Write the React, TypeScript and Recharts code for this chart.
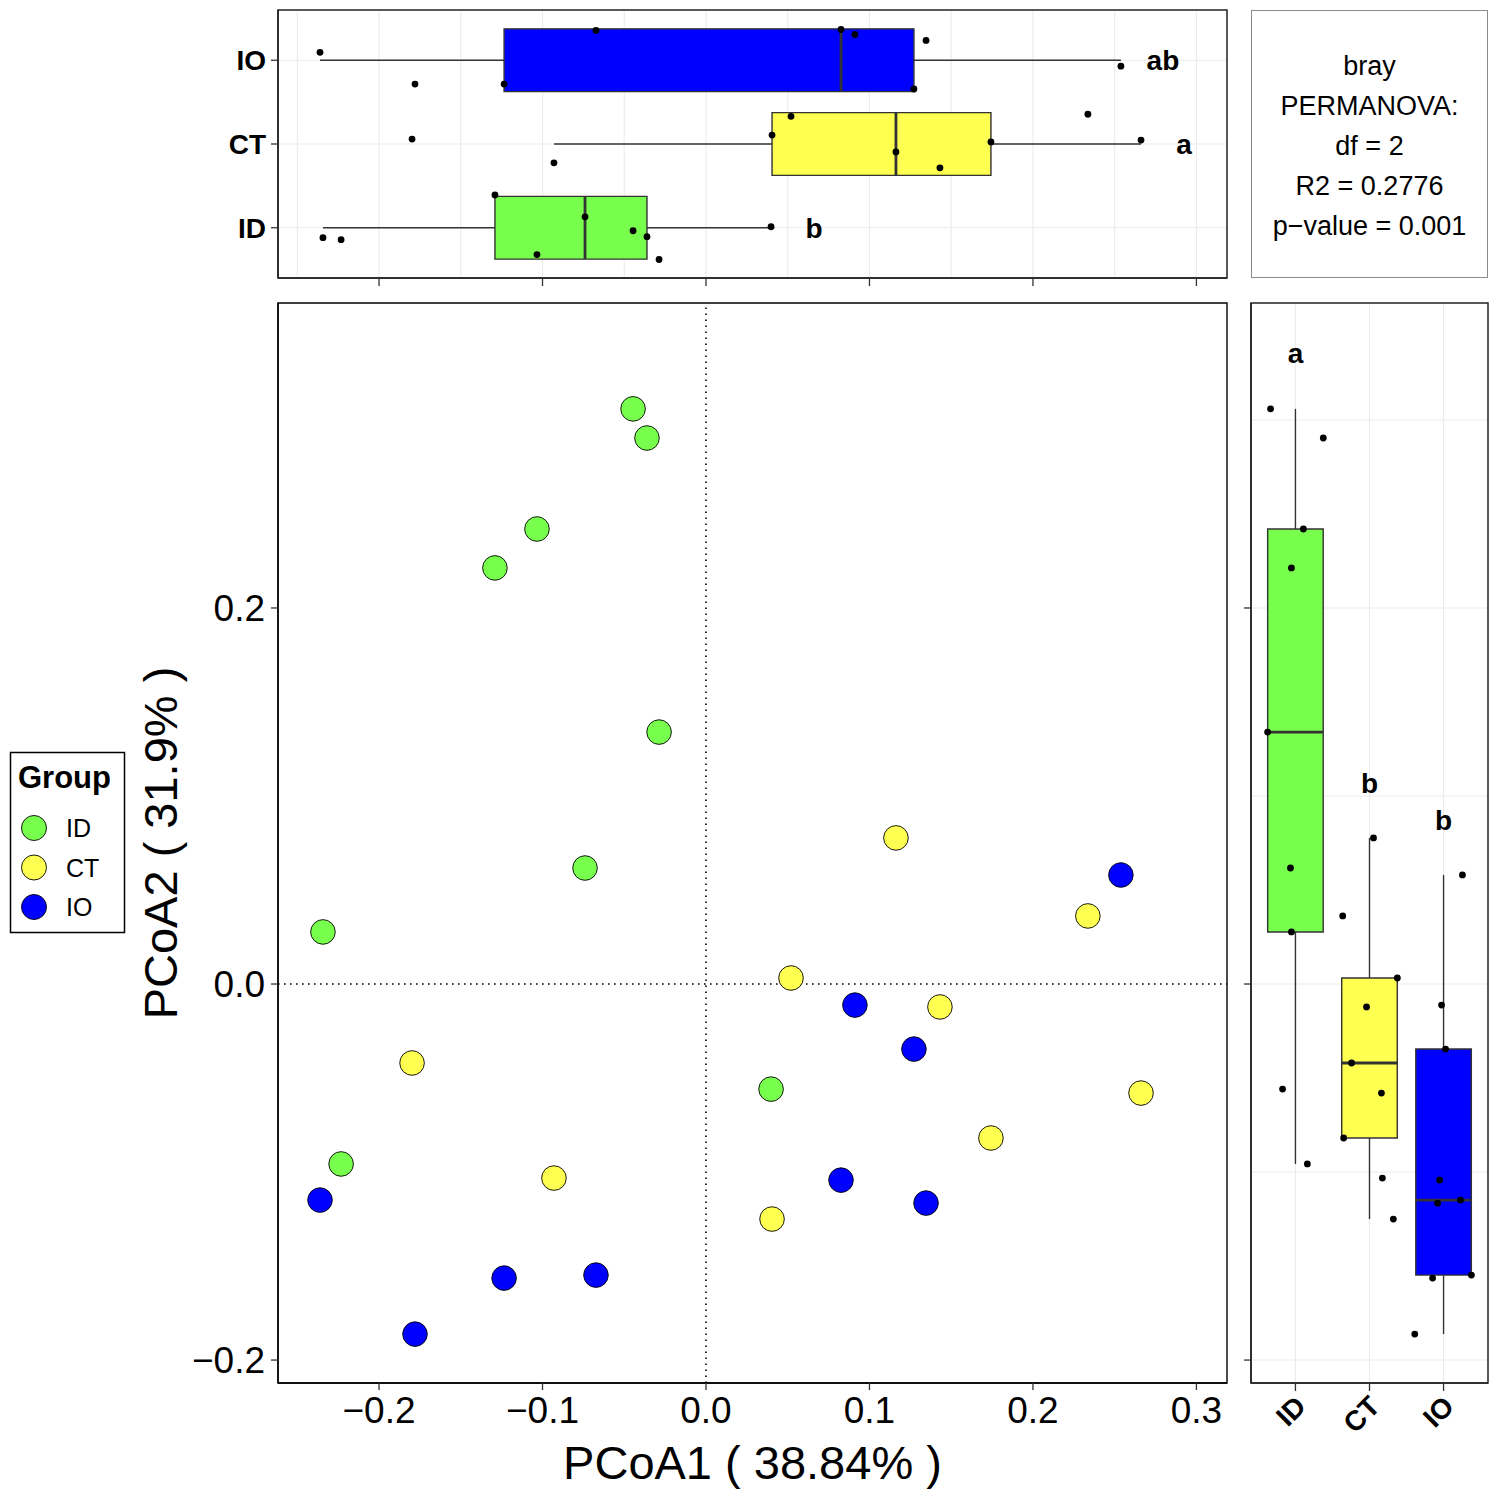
import React from 'react';
import {
  ScatterChart,
  Scatter,
  XAxis,
  YAxis,
  CartesianGrid,
  ReferenceLine,
  ReferenceArea,
} from 'recharts';

const FONT = '"Liberation Sans", Arial, Helvetica, sans-serif';

// ---------- data ----------
const groups = ['ID', 'CT', 'IO'];
const groupColors = ['#78FF4D', '#FFFF52', '#0000FF'];

const idX = [-0.0446, -0.0361, -0.1034, -0.1291, -0.0287, -0.074, -0.2343, 0.0398, -0.2232];
const idY = [0.3059, 0.2904, 0.242, 0.2213, 0.134, 0.0617, 0.0277, -0.0559, -0.0957];
const ctX = [0.1162, 0.2336, 0.052, 0.1431, -0.1798, 0.2661, 0.1743, -0.093, 0.0404];
const ctY = [0.0777, 0.0362, 0.0032, -0.0122, -0.042, -0.058, -0.0819, -0.1032, -0.125];
const ioX = [0.2538, 0.0911, 0.1272, 0.0826, 0.1346, -0.2361, -0.1235, -0.0673, -0.178];
const ioY = [0.058, -0.0112, -0.0346, -0.1043, -0.1165, -0.1149, -0.1564, -0.1548, -0.1862];

// jitter offsets (category units)
const idJitTop = [-0.036, -0.107, -0.32, 0.391, -0.379, 0.13, -0.118, 0.012, -0.142];
const ctJitTop = [-0.095, 0.355, 0.331, -0.284, 0.059, 0.047, 0.024, -0.225, 0.107];
const ioJitTop = [-0.071, 0.308, -0.343, 0.367, 0.237, 0.095, -0.284, 0.355, -0.284];
const idJitRight = [-0.336, 0.376, 0.107, -0.054, -0.376, -0.067, -0.054, -0.174, 0.161];
const ctJitRight = [0.054, -0.362, 0.376, -0.04, -0.242, 0.161, -0.349, 0.174, 0.322];
const ioJitRight = [0.255, -0.027, 0.027, -0.054, -0.081, 0.228, -0.148, 0.376, -0.389];

// significance letters
const topLetters = ['b', 'a', 'ab'];
const topLetterX = [0.0661, 0.2924, 0.2795];
const rightLetters = ['a', 'b', 'b'];
const rightLetterY = [0.3356, 0.1069, 0.0872];

// axes
const X_DOMAIN = [-0.2618, 0.3187];
const Y_DOMAIN = [-0.2122, 0.3622];
const CAT_DOMAIN = [0.4, 3.6];
const xTicks = [-0.2, -0.1, 0, 0.1, 0.2, 0.3];
const yTicks = [-0.2, 0, 0.2];
const catTicks = [1, 2, 3];
const xGridTop = [-0.25, -0.2, -0.15, -0.1, -0.05, 0, 0.05, 0.1, 0.15, 0.2, 0.25, 0.3];
const yGridRight = [-0.2, -0.1, 0, 0.1, 0.2, 0.3];

const statsLines = ['bray', 'PERMANOVA:', 'df = 2', 'R2 = 0.2776', 'p\u2212value = 0.001'];
const xTitle = 'PCoA1 ( 38.84% )';
const yTitle = 'PCoA2 ( 31.9% )';
const legendTitle = 'Group';

// ---------- derived ----------
const xs = [idX, ctX, ioX];
const ys = [idY, ctY, ioY];
const jitTop = [idJitTop, ctJitTop, ioJitTop];
const jitRight = [idJitRight, ctJitRight, ioJitRight];

function quantile(sorted: number[], p: number) {
  const h = (sorted.length - 1) * p;
  const lo = Math.floor(h);
  const hi = Math.min(lo + 1, sorted.length - 1);
  return sorted[lo] + (h - lo) * (sorted[hi] - sorted[lo]);
}
function boxStats(vals: number[]) {
  const s = [...vals].sort((a, b) => a - b);
  const q1 = quantile(s, 0.25);
  const med = quantile(s, 0.5);
  const q3 = quantile(s, 0.75);
  const iqr = q3 - q1;
  const lo = Math.min(...s.filter((v) => v >= q1 - 1.5 * iqr));
  const hi = Math.max(...s.filter((v) => v <= q3 + 1.5 * iqr));
  return { q1, med, q3, lo, hi };
}

const mainData = groups.map((g, i) => xs[i].map((x, j) => ({ x, y: ys[i][j] })));
const topPts = groups.map((g, i) => xs[i].map((x, j) => ({ x, y: i + 1 + jitTop[i][j] })));
const rightPts = groups.map((g, i) => ys[i].map((y, j) => ({ x: i + 1 + jitRight[i][j], y })));
const topStats = groups.map((g, i) => boxStats(xs[i]));
const rightStats = groups.map((g, i) => boxStats(ys[i]));
const topLetterData = groups.map((g, i) => ({ x: topLetterX[i], y: i + 1, label: topLetters[i] }));
const rightLetterData = groups.map((g, i) => ({ x: i + 1, y: rightLetterY[i], label: rightLetters[i] }));

const HALF = 0.375;
const GRID = '#EBEBEB';
const fmt = (v: number) => (v < 0 ? '\u2212' : '') + Math.abs(v).toFixed(1);

const bigCircle = (color: string) => (p: any) => (
  <circle cx={p.cx} cy={p.cy} r={12.3} fill={color} stroke="#000" strokeWidth={0.9} />
);
const smallDot = (p: any) => <circle cx={p.cx} cy={p.cy} r={3.4} fill="#000" />;
const emptyTick = () => <g />;
const letterShape = (p: any) => (
  <text
    x={p.cx}
    y={p.cy}
    dy="0.36em"
    textAnchor="middle"
    fontFamily={FONT}
    fontWeight="bold"
    fontSize={28}
    fill="#000"
  >
    {p.payload.label}
  </text>
);

const XTitle = (props: any) => {
  const vb = props.viewBox || { x: 278, y: 1093, width: 949, height: 100 };
  return (
    <text x={vb.x + vb.width / 2} y={vb.y + 96} textAnchor="middle" fontFamily={FONT} fontSize={47} fill="#000">
      {xTitle}
    </text>
  );
};
const YTitle = (props: any) => {
  const vb = props.viewBox || { x: 198, y: 13, width: 80, height: 1080 };
  const x = vb.x - 21;
  const y = vb.y + vb.height / 2;
  return (
    <text x={x} y={y} transform={`rotate(-90 ${x} ${y})`} textAnchor="middle" fontFamily={FONT} fontSize={47} fill="#000">
      {yTitle}
    </text>
  );
};

const RotTick = (p: any) => {
  const x = p.x + 12;
  const y = p.y + 17;
  return (
    <text
      x={x}
      y={y}
      transform={`rotate(-45 ${x} ${y})`}
      textAnchor="end"
      fontFamily={FONT}
      fontWeight="bold"
      fontSize={28}
      fill="#000"
    >
      {groups[p.payload.value - 1]}
    </text>
  );
};

export default function App() {
  return (
    <div style={{ position: 'absolute', left: 0, top: 0, width: 1500, height: 1498, background: '#fff', fontFamily: FONT }}>
      {/* top box plot */}
      <div style={{ position: 'absolute', left: 0, top: 0 }}>
        <ScatterChart width={1240} height={290} margin={{ top: 10, right: 13, bottom: 0, left: 198 }}>
          <CartesianGrid stroke={GRID} strokeWidth={1.1} verticalValues={xGridTop} horizontalValues={catTicks} />
          <XAxis
            type="number"
            dataKey="x"
            domain={X_DOMAIN}
            ticks={xTicks}
            interval={0}
            allowDataOverflow
            tick={emptyTick}
            tickSize={8}
            height={12}
            axisLine={{ stroke: '#222', strokeWidth: 1.5 }}
            tickLine={{ stroke: '#333', strokeWidth: 1.3 }}
          />
          <YAxis
            type="number"
            dataKey="y"
            domain={CAT_DOMAIN}
            ticks={catTicks}
            interval={0}
            allowDataOverflow
            width={80}
            tickSize={7}
            tickMargin={5}
            tickFormatter={(v: number) => groups[v - 1]}
            tick={{ fontSize: 28, fontWeight: 'bold', fill: '#000', fontFamily: FONT }}
            axisLine={{ stroke: '#222', strokeWidth: 1.5 }}
            tickLine={{ stroke: '#333', strokeWidth: 1.3 }}
          />
          {topStats.map((s, i) => (
            <ReferenceLine
              key={`tw1${i}`}
              segment={[{ x: s.lo, y: i + 1 }, { x: s.q1, y: i + 1 }]}
              stroke="#333"
              strokeWidth={1.4}
              ifOverflow="visible"
            />
          ))}
          {topStats.map((s, i) => (
            <ReferenceLine
              key={`tw2${i}`}
              segment={[{ x: s.q3, y: i + 1 }, { x: s.hi, y: i + 1 }]}
              stroke="#333"
              strokeWidth={1.4}
              ifOverflow="visible"
            />
          ))}
          {topStats.map((s, i) => (
            <ReferenceArea
              key={`tb${i}`}
              x1={s.q1}
              x2={s.q3}
              y1={i + 1 - HALF}
              y2={i + 1 + HALF}
              fill={groupColors[i]}
              fillOpacity={1}
              stroke="#333"
              strokeWidth={1.4}
              ifOverflow="visible"
            />
          ))}
          {topStats.map((s, i) => (
            <ReferenceLine
              key={`tm${i}`}
              segment={[{ x: s.med, y: i + 1 - HALF }, { x: s.med, y: i + 1 + HALF }]}
              stroke="#333"
              strokeWidth={2.8}
              ifOverflow="visible"
            />
          ))}
          {topPts.map((d, i) => (
            <Scatter key={`tp${i}`} data={d} isAnimationActive={false} shape={smallDot} />
          ))}
          <Scatter data={topLetterData} isAnimationActive={false} shape={letterShape} />
          <ReferenceArea
            x1={X_DOMAIN[0]}
            x2={X_DOMAIN[1]}
            y1={CAT_DOMAIN[0]}
            y2={CAT_DOMAIN[1]}
            fill="none"
            stroke="#222"
            strokeWidth={1.5}
            ifOverflow="visible"
          />
        </ScatterChart>
      </div>

      {/* stats text panel */}
      <div
        style={{
          position: 'absolute',
          left: 1251,
          top: 10,
          width: 237,
          height: 268,
          border: '1px solid #8a8a8a',
          paddingTop: 35,
          boxSizing: 'border-box',
          textAlign: 'center',
          fontSize: 27,
          lineHeight: '40px',
          color: '#000',
        }}
      >
        {statsLines.map((t, i) => (
          <div key={i}>{t}</div>
        ))}
      </div>

      {/* main scatter */}
      <div style={{ position: 'absolute', left: 0, top: 290 }}>
        <ScatterChart width={1240} height={1208} margin={{ top: 13, right: 13, bottom: 15, left: 198 }}>
          <XAxis
            type="number"
            dataKey="x"
            domain={X_DOMAIN}
            ticks={xTicks}
            interval={0}
            allowDataOverflow
            tickFormatter={fmt}
            tick={{ fontSize: 37, fill: '#000', fontFamily: FONT }}
            tickSize={7}
            tickMargin={7}
            height={100}
            axisLine={{ stroke: '#000', strokeWidth: 1.4 }}
            tickLine={{ stroke: '#333', strokeWidth: 1.3 }}
            label={{ content: XTitle }}
          />
          <YAxis
            type="number"
            dataKey="y"
            domain={Y_DOMAIN}
            ticks={yTicks}
            interval={0}
            allowDataOverflow
            tickFormatter={fmt}
            tick={{ fontSize: 37, fill: '#000', fontFamily: FONT }}
            tickSize={7}
            tickMargin={6}
            width={80}
            axisLine={{ stroke: '#000', strokeWidth: 1.4 }}
            tickLine={{ stroke: '#333', strokeWidth: 1.3 }}
            label={{ content: YTitle }}
          />
          <ReferenceLine x={0} stroke="#000" strokeWidth={1.6} strokeDasharray="1.6 4.4" />
          <ReferenceLine y={0} stroke="#000" strokeWidth={1.6} strokeDasharray="1.6 4.4" />
          {mainData.map((d, i) => (
            <Scatter key={`m${i}`} name={groups[i]} data={d} isAnimationActive={false} shape={bigCircle(groupColors[i])} />
          ))}
          <ReferenceArea
            x1={X_DOMAIN[0]}
            x2={X_DOMAIN[1]}
            y1={Y_DOMAIN[0]}
            y2={Y_DOMAIN[1]}
            fill="none"
            stroke="#000"
            strokeWidth={1.4}
            ifOverflow="visible"
          />
        </ScatterChart>
      </div>

      {/* right box plot */}
      <div style={{ position: 'absolute', left: 1240, top: 290 }}>
        <ScatterChart width={260} height={1208} margin={{ top: 13, right: 12, bottom: 15, left: 0 }}>
          <CartesianGrid stroke={GRID} strokeWidth={1.1} verticalValues={catTicks} horizontalValues={yGridRight} />
          <XAxis
            type="number"
            dataKey="x"
            domain={CAT_DOMAIN}
            ticks={catTicks}
            interval={0}
            allowDataOverflow
            tick={RotTick}
            tickSize={8}
            tickMargin={0}
            height={100}
            axisLine={{ stroke: '#222', strokeWidth: 1.5 }}
            tickLine={{ stroke: '#333', strokeWidth: 1.3 }}
          />
          <YAxis
            type="number"
            dataKey="y"
            domain={Y_DOMAIN}
            ticks={yTicks}
            interval={0}
            allowDataOverflow
            tick={emptyTick}
            tickSize={7}
            width={11}
            axisLine={{ stroke: '#222', strokeWidth: 1.5 }}
            tickLine={{ stroke: '#333', strokeWidth: 1.3 }}
          />
          {rightStats.map((s, i) => (
            <ReferenceLine
              key={`rw1${i}`}
              segment={[{ x: i + 1, y: s.lo }, { x: i + 1, y: s.q1 }]}
              stroke="#333"
              strokeWidth={1.4}
              ifOverflow="visible"
            />
          ))}
          {rightStats.map((s, i) => (
            <ReferenceLine
              key={`rw2${i}`}
              segment={[{ x: i + 1, y: s.q3 }, { x: i + 1, y: s.hi }]}
              stroke="#333"
              strokeWidth={1.4}
              ifOverflow="visible"
            />
          ))}
          {rightStats.map((s, i) => (
            <ReferenceArea
              key={`rb${i}`}
              x1={i + 1 - HALF}
              x2={i + 1 + HALF}
              y1={s.q1}
              y2={s.q3}
              fill={groupColors[i]}
              fillOpacity={1}
              stroke="#333"
              strokeWidth={1.4}
              ifOverflow="visible"
            />
          ))}
          {rightStats.map((s, i) => (
            <ReferenceLine
              key={`rm${i}`}
              segment={[{ x: i + 1 - HALF, y: s.med }, { x: i + 1 + HALF, y: s.med }]}
              stroke="#333"
              strokeWidth={2.8}
              ifOverflow="visible"
            />
          ))}
          {rightPts.map((d, i) => (
            <Scatter key={`rp${i}`} data={d} isAnimationActive={false} shape={smallDot} />
          ))}
          <Scatter data={rightLetterData} isAnimationActive={false} shape={letterShape} />
          <ReferenceArea
            x1={CAT_DOMAIN[0]}
            x2={CAT_DOMAIN[1]}
            y1={Y_DOMAIN[0]}
            y2={Y_DOMAIN[1]}
            fill="none"
            stroke="#222"
            strokeWidth={1.5}
            ifOverflow="visible"
          />
        </ScatterChart>
      </div>

      {/* legend */}
      <svg style={{ position: 'absolute', left: 0, top: 740 }} width={140} height={210}>
        <rect x={10.5} y={12.5} width={114} height={180} fill="#fff" stroke="#000" strokeWidth={1.5} />
        <text x={18} y={48} fontFamily={FONT} fontWeight="bold" fontSize={31} fill="#000">
          {legendTitle}
        </text>
        {groups.map((g, i) => (
          <g key={g}>
            <circle cx={34} cy={88 + i * 39.5} r={12.5} fill={groupColors[i]} stroke="#000" strokeWidth={0.9} />
            <text x={66} y={97 + i * 39.5} fontFamily={FONT} fontSize={25} fill="#000">
              {g}
            </text>
          </g>
        ))}
      </svg>
    </div>
  );
}
